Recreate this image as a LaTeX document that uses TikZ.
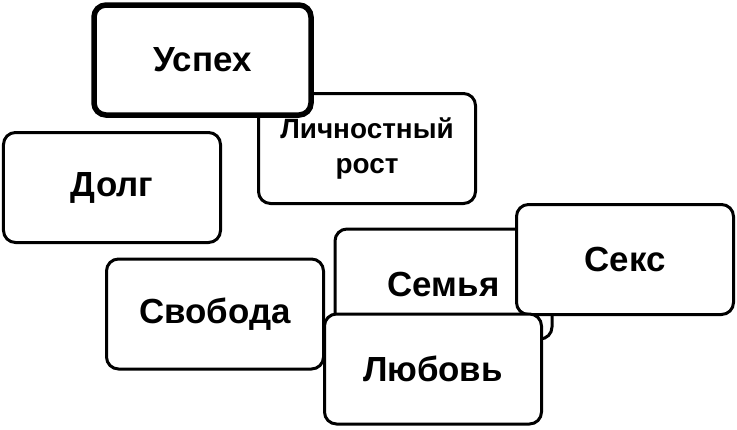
\documentclass[tikz,border=0pt]{standalone}
\usepackage{fontspec}
\setmainfont{Liberation Sans}
\begin{document}
\begin{tikzpicture}[x=1bp, y=-1bp, every node/.style={rectangle, rounded corners=12bp, draw=black, fill=white, line width=3bp, minimum width=217bp, minimum height=110bp, font=\bfseries\fontsize{35}{40}\selectfont, align=center, inner sep=0pt}]

    \useasboundingbox (0,0) rectangle (737,429);

    % Cards
    \node[font=\bfseries\fontsize{28}{36}\selectfont] (rost) at (367,148.5) {Личностный\\рост\vphantom{y}};
    \node[line width=5.5bp] (uspeh) at (202.5,60) {Успех};
    \node (dolg) at (112,187.5) {Долг};
    \node (svoboda) at (215,314) {Свобода};
    \node (semya) at (443.5,284) {\raisebox{-4bp}{Семья}};
    \node (seks) at (625,259.5) {Секс};
    \node (lyubov) at (433,369) {\raisebox{-4bp}{Любовь}};

\end{tikzpicture}
\end{document}
